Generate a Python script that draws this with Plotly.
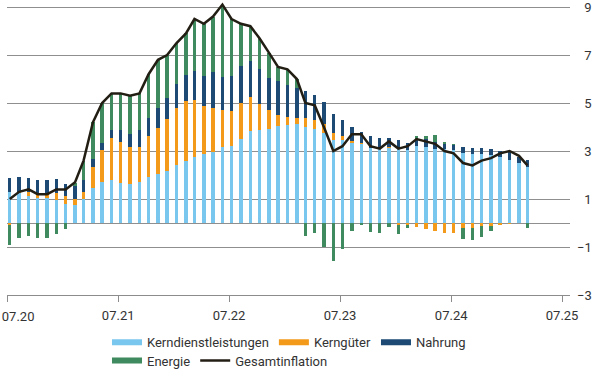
import plotly.graph_objects as go
import pandas as pd

# Monthly data Jul 2020 - Mar 2025 (contributions in percentage points)
months = pd.date_range("2020-07-01", periods=57, freq="MS")

kerndienst = [1.30, 1.28, 1.12, 1.05, 1.05, 0.96, 0.79, 0.75, 1.00, 1.47, 1.72,
              1.79, 1.68, 1.63, 1.72, 1.90, 2.03, 2.17, 2.42, 2.58, 2.74, 2.88, 2.97,
              3.18, 3.22, 3.49, 3.83, 3.88, 3.92, 4.04, 4.08, 4.13, 4.01, 3.90, 3.74,
              3.46, 3.46, 3.35, 3.32, 3.11, 3.11, 3.15, 3.11, 3.04, 3.21, 3.18, 3.07,
              3.07, 3.04, 2.90, 2.86, 2.86, 2.82, 2.76, 2.63, 2.51, 2.32]

kerngueter = [-0.10, 0.02, 0.18, 0.13, 0.14, 0.28, 0.32, 0.25, 0.28, 0.88, 1.32,
              1.77, 1.71, 1.55, 1.46, 1.73, 1.91, 2.16, 2.39, 2.50, 2.39, 2.00, 1.81,
              1.53, 1.45, 1.50, 1.41, 1.08, 0.79, 0.46, 0.32, 0.23, 0.35, 0.39, 0.39,
              0.28, 0.17, 0.08, 0.02, 0.0, 0.0, 0.03, -0.07, -0.10, -0.17, -0.25, -0.35,
              -0.40, -0.40, -0.22, -0.22, -0.14, -0.11, -0.10, -0.03, 0.0, 0.0]

nahrung = [0.56, 0.62, 0.59, 0.62, 0.62, 0.59, 0.51, 0.54, 0.51, 0.32, 0.31,
           0.32, 0.49, 0.51, 0.70, 0.76, 0.84, 0.89, 0.97, 1.09, 1.20, 1.26, 1.53,
           1.36, 1.47, 1.55, 1.51, 1.46, 1.35, 1.42, 1.35, 1.25, 1.15, 1.04, 0.93,
           0.79, 0.66, 0.56, 0.44, 0.52, 0.45, 0.35, 0.35, 0.31, 0.28, 0.31, 0.32,
           0.25, 0.21, 0.28, 0.28, 0.28, 0.26, 0.25, 0.34, 0.25, 0.31]

energie = [-0.82, -0.64, -0.53, -0.63, -0.63, -0.47, -0.24, 0.12, 0.81, 1.53, 1.65,
           1.52, 1.52, 1.61, 1.52, 1.81, 2.02, 1.78, 1.72, 1.73, 2.17, 2.16, 2.29,
           3.03, 2.36, 1.76, 1.45, 1.28, 1.04, 0.58, 0.65, 0.39, -0.54, -0.43, -0.99,
           -1.57, -1.10, -0.33, -0.06, -0.39, -0.43, -0.15, -0.38, -0.12, 0.14, 0.14, 0.26,
           0.04, 0.04, -0.46, -0.49, -0.43, -0.21, 0.0, 0.0, 0.0, -0.22]

gesamt = [1.0, 1.3, 1.4, 1.2, 1.2, 1.4, 1.4, 1.7, 2.6, 4.2, 5.0,
          5.4, 5.4, 5.3, 5.4, 6.2, 6.8, 7.0, 7.5, 7.9, 8.5, 8.3, 8.6,
          9.1, 8.5, 8.3, 8.2, 7.7, 7.1, 6.5, 6.4, 6.0, 5.0, 4.9, 4.0,
          3.0, 3.2, 3.7, 3.7, 3.2, 3.1, 3.4, 3.1, 3.2, 3.5, 3.4, 3.3,
          3.0, 2.9, 2.5, 2.4, 2.6, 2.7, 2.9, 3.0, 2.8, 2.4]

x_tick_dates = ["2020-07-01", "2021-07-01", "2022-07-01", "2023-07-01", "2024-07-01", "2025-07-01"]
x_tick_labels = ["07.20", "07.21", "07.22", "07.23", "07.24", "07.25"]
y_tick_vals = [9, 7, 5, 3, 1, -1, -3]
y_tick_labels = ["9", "7", "5", "3", "1", "\u22121", "\u22123"]

names = ["Kerndienstleistungen", "Kerngüter", "Nahrung", "Energie"]
colors = ["#79C6EE", "#F39A1B", "#1C4A74", "#3F8A5E"]
line_color = "#231E14"

FONT = "Roboto"
TXT = "#333333"
xpos = months + pd.Timedelta(days=8)
bar_w = 11 * 24 * 3600 * 1000
x_range = ["2020-06-30", "2025-07-27"]

fig = go.Figure()
for name, vals, col in zip(names, [kerndienst, kerngueter, nahrung, energie], colors):
    fig.add_trace(go.Bar(x=xpos, y=vals, name=name, marker=dict(color=col, line=dict(width=0)),
                         width=bar_w, showlegend=False))

fig.add_trace(go.Scatter(x=xpos, y=gesamt, mode="lines", name="Gesamtinflation",
                         line=dict(color=line_color, width=2.5), showlegend=False))

# invisible trace so the helper axis (first tick label) is drawn
fig.add_trace(go.Scatter(x=[None], y=[None], xaxis="x2", mode="lines", showlegend=False,
                         hoverinfo="skip", line=dict(width=0)))

# legend entries (line-style swatches)
leg_items = [(names[0], colors[0], 6, "legend"), (names[1], colors[1], 6, "legend"),
             (names[2], colors[2], 6, "legend"), (names[3], colors[3], 6, "legend2"),
             ("Gesamtinflation", line_color, 2.5, "legend2")]
for nm, col, w, lg in leg_items:
    fig.add_trace(go.Scatter(x=[None], y=[None], mode="lines", name=nm,
                             line=dict(color=col, width=w), legend=lg, showlegend=True))

ticktext_x = [""] + x_tick_labels[1:]
ticktext_y = [("\u2007" + t) if not t.startswith("\u2212") else t for t in y_tick_labels]

fig.update_layout(
    width=600, height=380,
    margin=dict(l=7, r=30, t=1, b=85),
    paper_bgcolor="white", plot_bgcolor="white",
    font=dict(family=FONT, size=13, color=TXT),
    barmode="relative", bargap=0,
    xaxis=dict(type="date", range=x_range,
               tickvals=x_tick_dates, ticktext=ticktext_x,
               showgrid=False, zeroline=False, showline=True, linecolor="#8c8c8c", linewidth=1,
               ticks="outside", ticklen=6, tickcolor="#8c8c8c", tickwidth=1,
               ticklabelstandoff=2,
               tickfont=dict(family=FONT, size=13, color=TXT), automargin=False),
    # helper axis carrying only the first (left-aligned) tick label
    xaxis2=dict(type="date", range=x_range, overlaying="x", anchor="y", side="bottom",
                tickvals=x_tick_dates[:1], ticktext=x_tick_labels[:1],
                ticklabelposition="outside right", ticklabelshift=-6, ticklabelstandoff=9,
                ticklabeloverflow="allow",
                showgrid=False, zeroline=False, showline=False, ticks="outside",
                ticklen=6, tickcolor="rgba(0,0,0,0)",
                tickfont=dict(family=FONT, size=13, color=TXT), automargin=False),
    yaxis=dict(range=[-3, 9.25], side="right", tickvals=y_tick_vals, ticktext=ticktext_y,
               showgrid=True, gridcolor="#8f8f8f", gridwidth=1,
               zeroline=True, zerolinecolor="#8f8f8f", zerolinewidth=1,
               ticks="", ticklabelstandoff=6, ticklabeloverflow="allow",
               tickfont=dict(family=FONT, size=13, color=TXT), automargin=False),
    legend=dict(orientation="h", x=0.1776, xanchor="left", y=-0.11, yanchor="top",
                font=dict(family=FONT, size=13, color=TXT), itemwidth=30,
                bgcolor="rgba(0,0,0,0)"),
    legend2=dict(orientation="h", x=0.1776, xanchor="left", y=-0.172, yanchor="top",
                 font=dict(family=FONT, size=13, color=TXT), itemwidth=30,
                 bgcolor="rgba(0,0,0,0)"),
)

fig.write_html("out.html", config={"displayModeBar": False},
               post_script="document.body.style.margin='0';")
